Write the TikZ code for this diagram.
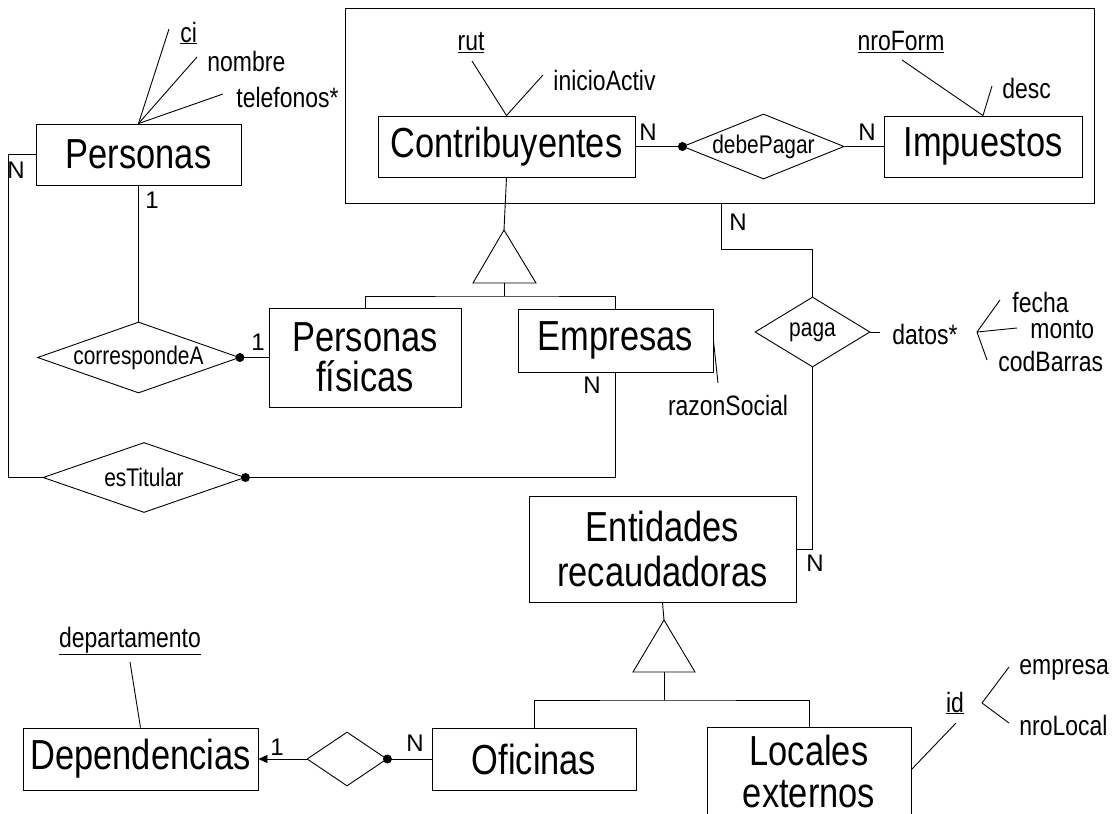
\documentclass[tikz,border=0pt]{standalone}
\usepackage{fontspec}
\setmainfont{Liberation Sans}[FakeStretch=0.82]
\newfontfamily\plainfont{Liberation Sans}
\usetikzlibrary{arrows.meta,shapes.geometric,calc}
\begin{document}
\begin{tikzpicture}[x=1pt,y=-1pt,line width=0.9pt,
  ent/.style={draw,rectangle,inner sep=0pt,align=center,font=\fontsize{42}{42}\selectfont},
  rel/.style={draw,diamond,inner sep=0pt,font=\fontsize{25.5}{26}\selectfont},
  attr/.style={inner sep=0pt,font=\fontsize{28}{28}\selectfont},
  card/.style={inner sep=0pt,font=\plainfont\fontsize{24}{28}\selectfont},
  isa/.style={draw,line join=miter}
]
\useasboundingbox (0,0) rectangle (1112,814);
\clip (0,0) rectangle (1112,814);

% aggregation box
\node[draw,inner sep=0pt,minimum width=749pt,minimum height=195pt] (agg) at (719.5,105.5) {};

% entities
\node[ent,minimum width=205pt,minimum height=61pt] (per) at (138.5,154.5) {Personas};
\node[ent,minimum width=257pt,minimum height=61pt] (con) at (506.5,146.5) {Contribuyentes};
\node[ent,minimum width=198pt,minimum height=61pt] (imp) at (983,146.5) {Impuestos};
\node[ent,minimum width=192pt,minimum height=99pt,font=\fontsize{42}{40}\selectfont] (pf) at (365,357.5) {Personas\\físicas};
\node[ent,minimum width=195pt,minimum height=63pt] (emp) at (615.5,340.5) {Empresas};
\node[ent,minimum width=267pt,minimum height=106pt,font=\fontsize{42}{45}\selectfont] (er) at (662.5,549) {Entidades\\recaudadoras};
\node[ent,minimum width=204pt,minimum height=62pt] (ofi) at (534,759) {Oficinas};
\node[ent,minimum width=235pt,minimum height=62pt] (dep) at (140.5,759) {Dependencias};
\node[ent,minimum width=204pt,minimum height=88pt,font=\fontsize{42}{42}\selectfont] (loc) at (809,771) {Locales\\externos};

% relationships
\node[rel,minimum width=202pt,minimum height=71pt,aspect=2.85] (cor) at (138.5,357.5) {correspondeA};
\node[rel,minimum width=202pt,minimum height=70pt,aspect=2.89] (est) at (144,477.5) {esTitular};
\node[rel,minimum width=151pt,minimum height=61pt,aspect=2.48] (deb) at (763.5,146.5) {debePagar};
\node[rel,minimum width=115pt,minimum height=70pt,aspect=1.64] (pag) at (812.5,332) {paga};
\node[rel,minimum width=80pt,minimum height=54pt,aspect=1.48] (dr) at (347,759) {};

% attributes
\node[attr,anchor=west] (ci) at (180,33) {\underline{ci}};
\node[attr,anchor=west] (nom) at (207,61) {nombre};
\node[attr,anchor=west] (tel) at (236,97) {telefonos*};
\node[attr] (rut) at (471,43) {\underline{rut}};
\node[attr,anchor=west] (ini) at (553,80) {inicioActiv};
\node[attr] (nro) at (901,42) {\underline{nroForm}};
\node[attr,anchor=west] (desc) at (1002,88) {desc};
\node[attr] (raz) at (728,405) {razonSocial};
\node[attr,anchor=west] (dat) at (892,334) {datos*};
\node[attr,anchor=west] (fec) at (1012,302) {fecha};
\node[attr,anchor=west] (mon) at (1030,330) {monto};
\node[attr,anchor=west] (cod) at (998,361) {codBarras};
\node[attr] (dpt) at (130,641) {\underline{departamento}};
\node[attr] (id) at (955,703) {\underline{id}};
\node[attr,anchor=west] (emps) at (1019,670) {empresa};
\node[attr,anchor=west] (nrl) at (1019,725) {nroLocal};

% attribute lines
\draw (per.north) -- ($(ci.west)+(-11,-4)$);
\draw (per.north) -- ($(nom.west)+(-10,-4)$);
\draw (per.north) -- ($(tel.west)+(-13,-3)$);
\draw (con.north) -- ($(rut.center)+(1,18)$);
\draw (con.north) -- ($(ini.west)+(-10,-5)$);
\draw (imp.north) -- ($(nro.center)+(1,18)$);
\draw (imp.north) -- ($(desc.west)+(-10,-2)$);
\draw (emp.east) -- ($(raz.center)+(-10,-22)$);
\draw (dep.north) -- ($(dpt.center)+(0,21)$);
\draw (pag.east) -- ($(dat.west)+(-12,-2)$);
\coordinate (fk) at ($(dat.east)+(19,-2)$);
\draw (fk) -- ($(fec.west)+(-12,-2)$);
\draw (fk) -- ($(mon.west)+(-13,-2)$);
\draw (fk) -- ($(cod.west)+(-11,-1)$);
\draw ($(loc.north east)+(0,43)$) -- ($(id.center)+(1,20)$);
\coordinate (ik) at ($(id.center)+(27,0)$);
\draw (ik) -- ($(emps.west)+(-10,-3)$);
\draw (ik) -- ($(nrl.west)+(-10,-2)$);

% relationship connectors
\coordinate (lft) at (8,0);
\draw (per.west) -- (per.west -| lft) |- (est.west);
\draw (per.south) -- (cor.north);
\draw (cor.east) -- (pf.west);
\fill (cor.east) circle (4.5pt);
\draw (est.east) -| (emp.south);
\fill (est.east) circle (4.5pt);
\draw (con.east) -- (deb.west);
\fill (deb.west) circle (4.5pt);
\draw (deb.east) -- (imp.west);
\coordinate (x721) at (721,0);
\coordinate (y249) at (0,249);
\draw (agg.south -| x721) -- (x721 |- y249) -| (pag.north);
\draw (pag.south) |- (er.east);
\draw (ofi.west) -- (dr.east);
\fill (dr.east) circle (4.5pt);
\draw[-{Triangle[length=9pt,width=8pt]}] (dr.west) -- (dep.east);

% ISA 1
\coordinate (t1) at (504,230);
\coordinate (t1b) at (504,283);
\coordinate (j1) at (504,296);
\draw[isa] (t1) -- ++(32,53) -- ++(-63,0) -- cycle;
\draw (con.south) -- (t1);
\draw (t1b) -- (j1);
\draw (pf.north) |- (j1) -| (emp.north);

% ISA 2
\coordinate (t2) at (664,620);
\coordinate (t2b) at (664,672);
\coordinate (j2) at (664,700);
\draw[isa] (t2) -- ++(31,52) -- ++(-62,0) -- cycle;
\draw (er.south) -- (t2);
\draw (t2b) -- (j2);
\draw (ofi.north) |- (j2) -| (loc.north);

% cardinalities
\node[card] (c1) at (16,170) {N};
\node[card] (c2) at (152,200) {1};
\node[card] (c3) at (258,342) {1};
\node[card] (c4) at (592,385) {N};
\node[card] (c5) at (648,132) {N};
\node[card] (c6) at (867,132) {N};
\node[card] (c7) at (738,222) {N};
\node[card] (c8) at (815,563) {N};
\node[card] (c9) at (415,743) {N};
\node[card] (c10) at (277,747) {1};
\end{tikzpicture}
\end{document}
